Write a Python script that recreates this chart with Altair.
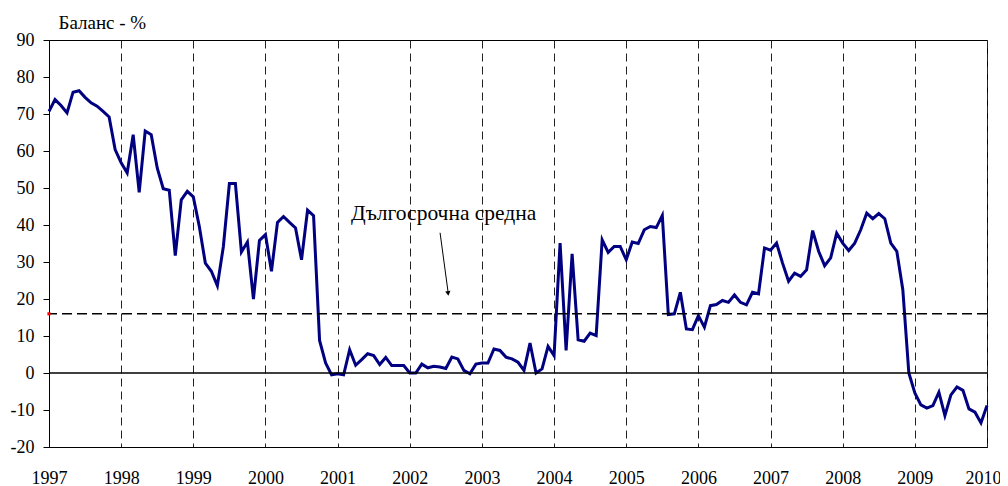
import altair as alt
import pandas as pd

# Monthly balance (%), Jan 1997 .. Jan 2010
v1997 = [70.7, 73.9, 72.3, 70.3, 75.9, 76.3, 74.5, 73.0, 72.1, 70.7, 69.2, 60.4]
v1998 = [56.8, 54.1, 64.4, 48.8, 65.4, 64.4, 55.4, 49.8, 49.4, 31.7, 46.8, 49.1]
v1999 = [47.6, 39.6, 29.7, 27.5, 23.6, 34.2, 51.2, 51.2, 32.7, 35.4, 20.0, 35.8]
v2000 = [37.4, 27.5, 40.7, 42.3, 40.7, 39.2, 30.6, 44.0, 42.5, 8.8, 2.7, -0.5]
v2001 = [-0.2, -0.5, 6.3, 2.1, 3.6, 5.2, 4.7, 2.3, 4.2, 2.0, 2.0, 2.0]
v2002 = [0.0, 0.0, 2.4, 1.4, 1.8, 1.6, 1.2, 4.3, 3.8, 0.7, -0.2, 2.4]
v2003 = [2.7, 2.7, 6.5, 6.1, 4.3, 3.8, 2.9, 0.7, 8.1, 0.0, 1.1, 7.2]
v2004 = [4.7, 35.1, 6.1, 32.2, 9.0, 8.6, 10.8, 10.1, 36.0, 32.6, 34.2, 34.2]
v2005 = [30.6, 35.4, 35.0, 38.7, 39.6, 39.3, 42.6, 15.8, 16.0, 21.8, 11.9, 11.7]
v2006 = [15.5, 12.4, 18.2, 18.5, 19.6, 19.1, 21.1, 19.1, 18.4, 21.8, 21.4, 33.8]
v2007 = [33.2, 35.1, 29.7, 24.8, 27.0, 26.1, 27.9, 38.5, 32.9, 29.0, 31.1, 37.8]
v2008 = [35.1, 33.1, 35.1, 38.7, 43.2, 41.7, 43.1, 41.7, 35.1, 32.9, 22.5, 0.0]
v2009 = [-5.4, -8.6, -9.5, -8.8, -5.2, -11.5, -5.9, -3.8, -4.7, -9.7, -10.6, -13.5]
v2010 = [-8.8]

years = list(range(1997, 2011))
series = [v1997, v1998, v1999, v2000, v2001, v2002, v2003, v2004,
          v2005, v2006, v2007, v2008, v2009, v2010]

long_term_avg = 16.0
annotation_text = "Дългосрочна средна"
y_title = "Баланс - %"
y_ticks = [-20, -10, 0, 10, 20, 30, 40, 50, 60, 70, 80, 90]

rows = []
for yr, vals in zip(years, series):
    for m, val in enumerate(vals):
        rows.append({"t": yr + m / 12.0, "v": val})
df = pd.DataFrame(rows)

FONT = "Liberation Serif"

x_scale = alt.Scale(domain=[1997, 2010], nice=False, zero=False)
y_scale = alt.Scale(domain=[-20, 90], nice=False, zero=False)

x_axis = alt.Axis(
    values=years, format="d", grid=True, gridColor="#222222", gridDash=[8, 5],
    gridWidth=1, ticks=False, labelPadding=22, labelFontSize=18, labelFont=FONT,
    labelColor="black", domainColor="black", title=None, labelFlush=False,
    labelOverlap=False,
    labelOffset={"condition": {"test": "datum.value == 2010", "value": -4}, "value": 0},
)
y_axis = alt.Axis(
    values=y_ticks, grid=False, tickSize=6, tickColor="black",
    labelPadding=9, labelFontSize=18, labelFont=FONT, labelColor="black",
    labelOverlap=False, labelExpr="'' + datum.value",
    domainColor="black", title=y_title, titleAngle=0, titleX=9, titleY=-18,
    titleAlign="left", titleBaseline="middle", titleFont=FONT, titleFontSize=19,
    titleFontWeight="normal", titleColor="black",
)


def X(field):
    return alt.X(field, scale=x_scale, axis=x_axis)


def Y(field):
    return alt.Y(field, scale=y_scale, axis=y_axis)


line = alt.Chart(df).mark_line(color="#000080", strokeWidth=3).encode(
    x=X("t:Q"), y=Y("v:Q"),
)

zero = alt.Chart(pd.DataFrame({"y": [0]})).mark_rule(color="black", strokeWidth=1.5).encode(
    y=Y("y:Q")
)
avg = alt.Chart(pd.DataFrame({"y": [long_term_avg]})).mark_rule(
    color="black", strokeWidth=1.5, strokeDash=[10, 5]
).encode(y=Y("y:Q"))

red = alt.Chart(pd.DataFrame({"x": [1997], "y": [long_term_avg]})).mark_square(
    color="red", size=10, opacity=1
).encode(x=X("x:Q"), y=Y("y:Q"))

text = alt.Chart(pd.DataFrame({"x": [2002.47], "y": [43.0], "s": [annotation_text]})).mark_text(
    font=FONT, fontSize=21.5, color="black", align="center", baseline="middle"
).encode(x=X("x:Q"), y=Y("y:Q"), text="s:N")

arrow = alt.Chart(pd.DataFrame({"x": [2002.42], "y": [37.9], "x2": [2002.53], "y2": [22.0]})).mark_rule(
    color="black", strokeWidth=1
).encode(x=X("x:Q"), y=Y("y:Q"), x2="x2:Q", y2="y2:Q")

head = alt.Chart(pd.DataFrame({"x": [2002.53], "y": [21.7]})).mark_point(
    shape="triangle", angle=173, size=28, filled=True, color="black", opacity=1
).encode(x=X("x:Q"), y=Y("y:Q"))

chart = alt.layer(line, zero, avg, text, arrow, head, red).properties(
    width=938, height=407,
    autosize=alt.AutoSizeParams(type="none"),
    padding={"left": 41, "top": 32, "right": 13, "bottom": 39},
).configure(
    background="white",
    font=FONT,
    view=alt.ViewConfig(stroke="black", strokeWidth=1),
).configure_axis(labelFont=FONT, titleFont=FONT)

chart.save("out.html", embed_options={"renderer": "svg", "actions": False})
